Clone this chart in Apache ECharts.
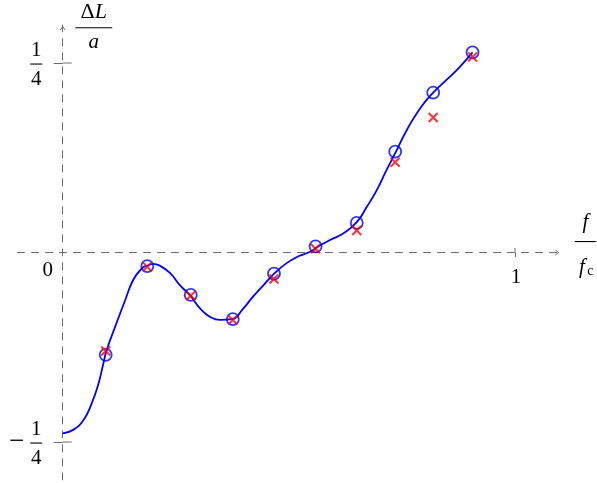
<!DOCTYPE html>
<html>
<head>
<meta charset="utf-8">
<script src="https://cdn.jsdelivr.net/npm/echarts@6/dist/echarts.min.js"></script>
<style>
html, body { margin: 0; padding: 0; background: #fff; }
#chart { width: 597px; height: 483px; }
</style>
</head>
<body>
<div id="chart"></div>
<script>
// curve
const curveX = [0, 0.023, 0.046, 0.064, 0.079, 0.090, 0.097, 0.119, 0.138, 0.156, 0.175, 0.187,
  0.200, 0.215, 0.237, 0.259, 0.282, 0.304, 0.326, 0.348, 0.374, 0.399, 0.421, 0.444, 0.469, 0.495,
  0.521, 0.547, 0.562, 0.591, 0.620, 0.650, 0.672, 0.694, 0.716, 0.735, 0.761, 0.790, 0.819,
  0.849, 0.878, 0.906];
const curveY = [-0.2385, -0.234, -0.221, -0.199, -0.173, -0.146, -0.129, -0.093, -0.063, -0.036,
  -0.021, -0.0175, -0.015, -0.0175, -0.027, -0.043, -0.057, -0.074, -0.085, -0.089, -0.088, -0.074,
  -0.058, -0.043, -0.027, -0.014, -0.005, 0.001, 0.007, 0.0165, 0.025, 0.040, 0.060, 0.082,
  0.109, 0.131, 0.162, 0.190, 0.211, 0.228, 0.245, 0.264];
// samples: circles (blue) and crosses (red)
const markX = [0.095, 0.187, 0.283, 0.376, 0.467, 0.559, 0.650, 0.735, 0.819, 0.906];
const circleY = [-0.135, -0.018, -0.056, -0.088, -0.028, 0.008, 0.039, 0.133, 0.211, 0.264];
const crossY = [-0.130, -0.019, -0.057, -0.089, -0.035, 0.005, 0.029, 0.119, 0.178, 0.258];
// ticks
const xTicks = [1];
const xTickLabels = ['1'];
const yTicks = [-0.25, 0.25];
const yTickSign = ['\u2212', ''];
const yTickNum = ['1', '1'];
const yTickDen = ['4', '4'];

const chart = echarts.init(document.getElementById('chart'));
const grey = '#6a6a6a';
const serif = '"Liberation Serif", "DejaVu Serif", serif';
const fs = 21;

const axisBase = (dim) => ({
  type: 'value',
  min: dim === 'x' ? -0.1 : -0.3,
  max: dim === 'x' ? 1.1 : 0.3,
  axisLine: {
    show: true,
    onZero: true,
    lineStyle: { color: grey, width: 1, type: [7, 7] },
  },
  axisTick: {
    show: true,
    length: dim === 'x' ? 4.5 : 9,
    customValues: dim === 'x' ? xTicks : yTicks,
    lineStyle: { color: grey, width: 1 },
  },
  axisLabel: { show: false },
  splitLine: { show: false },
});

chart.setOption({
  animation: false,
  grid: { left: 17.5, right: 36.7, top: 25.1, bottom: 3.1 },
  xAxis: axisBase('x'),
  yAxis: axisBase('y'),
  series: [
    {
      type: 'line',
      data: curveX.map((x, i) => [x, curveY[i]]),
      smooth: 0.5,
      showSymbol: false,
      lineStyle: { color: '#0000ff', width: 1.8 },
      z: 2,
    },
    {
      type: 'scatter',
      data: markX.map((x, i) => [x, circleY[i]]),
      symbol: 'circle',
      symbolSize: 12,
      itemStyle: { color: 'rgba(0,0,0,0)', borderColor: '#0000ff', borderWidth: 1.8 },
      z: 3,
    },
    {
      type: 'scatter',
      data: markX.map((x, i) => [x, crossY[i]]),
      symbol: 'path://M0,0L10,10M10,0L0,10',
      symbolSize: 9,
      itemStyle: { color: '#ff0000', borderColor: '#ff0000', borderWidth: 2 },
      z: 4,
    },
  ],
});

const px = (x, y) => chart.convertToPixel({ xAxisIndex: 0, yAxisIndex: 0 }, [x, y]);
const txt = (x, y, text, extra) => ({
  type: 'text', x: x, y: y, z: 10,
  style: Object.assign({ text: text, fill: '#000', font: fs + 'px ' + serif, align: 'center', verticalAlign: 'middle' }, extra || {}),
});
const bar = (cx, y, w) => ({
  type: 'rect', z: 10, shape: { x: cx - w / 2, y: y - 0.5, width: w, height: 1.1 }, style: { fill: '#000' },
});
const seg = (a, b) => ({
  type: 'line', z: 10, shape: { x1: a[0], y1: a[1], x2: b[0], y2: b[1] }, style: { stroke: grey, lineWidth: 1 },
});

const g = [];
// y tick labels as fractions (+ inner half of the tick)
yTicks.forEach((v, i) => {
  const p = px(0, v);
  g.push(seg([p[0], p[1]], [p[0] + 9, p[1]]));
  const cx = p[0] - 26.5;
  const by = p[1] + 1;
  g.push(txt(cx, by - 14, yTickNum[i]));
  g.push(bar(cx, by, 12));
  g.push(txt(cx, by + 15.5, yTickDen[i]));
  if (yTickSign[i]) g.push(txt(cx - 19.5, by - 1, yTickSign[i], { font: '27px ' + serif }));
});
// x tick labels (+ upper half of the tick)
xTicks.forEach((v, i) => {
  const p = px(v, 0);
  g.push(seg([p[0], p[1]], [p[0], p[1] - 4.5]));
  g.push(txt(p[0] + 1, p[1] + 24.5, xTickLabels[i]));
});
// origin label
const o = px(0, 0);
g.push(txt(o[0] - 15, o[1] + 17.5, '0'));

// arrow heads
const yEnd = px(0, 0.3);
g.push({ type: 'polyline', z: 10, shape: { points: [[yEnd[0] - 2.5, yEnd[1] + 5], [yEnd[0], yEnd[1] + 1.5], [yEnd[0] + 2.5, yEnd[1] + 5]] },
  style: { stroke: grey, lineWidth: 1, fill: null } });
const xEnd = px(1.1, 0);
g.push({ type: 'polyline', z: 10, shape: { points: [[xEnd[0] - 5, xEnd[1] - 2.5], [xEnd[0] - 1.5, xEnd[1]], [xEnd[0] - 5, xEnd[1] + 2.5]] },
  style: { stroke: grey, lineWidth: 1, fill: null } });

// y axis name: ΔL / a
const ycx = o[0] + 31;
const yby = yEnd[1] + 2.6;
g.push({
  type: 'text', x: ycx, y: yby - 15.5, z: 10,
  style: {
    text: '{r|\u0394}{i|L}', align: 'center', verticalAlign: 'middle',
    rich: {
      r: { fontFamily: serif, fontSize: fs + 1, fill: '#000' },
      i: { fontFamily: serif, fontSize: fs + 1, fontStyle: 'italic', fill: '#000' },
    },
  },
});
g.push(bar(ycx, yby, 37));
g.push(txt(ycx, yby + 14.5, 'a', { font: 'italic ' + fs + 'px ' + serif }));

// x axis name: f / f_c
const xcx = xEnd[0] + 25;
const xby = o[1] - 11;
g.push(txt(xcx, xby - 19, 'f', { font: 'italic ' + fs + 'px ' + serif }));
g.push(bar(xcx, xby, 21));
g.push(txt(xcx - 3.5, xby + 26, 'f', { font: 'italic ' + fs + 'px ' + serif }));
g.push(txt(xcx + 5, xby + 30, 'c', { font: '14px ' + serif }));

chart.setOption({ graphic: g });
</script>
</body>
</html>
